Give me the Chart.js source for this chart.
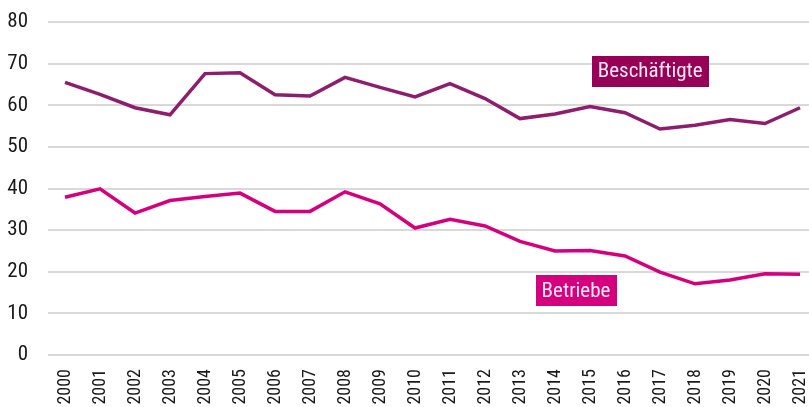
<!DOCTYPE html>
<html>
<head>
<meta charset="utf-8">
<script src="https://cdn.jsdelivr.net/npm/chart.js@4"></script>
<style>
  html,body{margin:0;padding:0;background:#fff;}
  #wrap{width:809px;height:407px;}
</style>
</head>
<body>
<div id="wrap"><canvas id="c"></canvas></div>
<script>
// Beschäftigte / Betriebe 2000-2021
const years = [2000,2001,2002,2003,2004,2005,2006,2007,2008,2009,2010,2011,2012,2013,2014,2015,2016,2017,2018,2019,2020,2021];
const beschaeftigte = [65.5,62.6,59.4,57.7,67.6,67.8,62.5,62.2,66.7,64.3,62.0,65.2,61.6,56.8,57.9,59.7,58.2,54.3,55.2,56.6,55.6,59.4];
const betriebe = [37.9,39.9,34.1,37.1,38.1,38.9,34.5,34.5,39.2,36.3,30.5,32.6,31.0,27.3,25.0,25.1,23.8,19.9,17.1,18.0,19.5,19.4];
const yTicks = [0,10,20,30,40,50,60,70,80];
// labels placed at data positions
const seriesLabels = [
  { text:'Beschäftigte', x:2016.72, y:68.2, bg:'#960056' },
  { text:'Betriebe',     x:2014.6,  y:15.4, bg:'#D5007D' }
];

const FONT = '"Roboto Condensed", "Liberation Sans Narrow", sans-serif';

const labelPlugin = {
  id:'seriesLabels',
  afterDatasetsDraw(chart){
    const {ctx, scales:{x,y}} = chart;
    ctx.save();
    ctx.font = '21px ' + FONT;
    ctx.textAlign = 'center'; ctx.textBaseline = 'middle';
    seriesLabels.forEach(l=>{
      const px = x.getPixelForValue(l.x), py = y.getPixelForValue(l.y);
      const w = ctx.measureText(l.text).width + 12, h = 31;
      ctx.fillStyle = l.bg;
      ctx.fillRect(Math.round(px - w/2), Math.round(py - h/2), Math.round(w), h);
      ctx.fillStyle = '#fbe9f3';
      ctx.fillText(l.text, px, py + 1);
    });
    ctx.restore();
  }
};

new Chart(document.getElementById('c'), {
  type:'line',
  data:{
    datasets:[
      { label:'Beschäftigte', data:years.map((yr,i)=>({x:yr,y:beschaeftigte[i]})), borderColor:'#8E1D6D', borderWidth:3.5, pointRadius:0, tension:0, fill:false },
      { label:'Betriebe', data:years.map((yr,i)=>({x:yr,y:betriebe[i]})), borderColor:'#D6007F', borderWidth:3.5, pointRadius:0, tension:0, fill:false }
    ]
  },
  options:{
    responsive:true, maintainAspectRatio:false, animation:false,
    layout:{ padding:{ left:0, right:0, top:22, bottom:0 } },
    plugins:{ legend:{display:false}, tooltip:{enabled:false} },
    scales:{
      x:{
        type:'linear', min:1999.514, max:2021.257,
        afterBuildTicks: axis => { axis.ticks = years.map(v=>({value:v})); },
        afterFit: axis => { axis.height = 52; axis.paddingLeft = 0; axis.paddingRight = 0; },
        grid:{ display:false, drawTicks:false }, border:{ display:false },
        ticks:{ autoSkip:false, minRotation:90, maxRotation:90, padding:14, color:'#1a1a1a',
          font:{ family:FONT, size:18 }, callback:v=>String(v) }
      },
      y:{
        min:0, max:80,
        afterBuildTicks: axis => { axis.ticks = yTicks.map(v=>({value:v})); },
        afterFit: axis => { axis.width = 48; axis.paddingTop = 0; axis.paddingBottom = 0; },
        grid:{ color:'#d9d9d9', lineWidth:2, drawTicks:false }, border:{ display:false },
        ticks:{ padding:20, color:'#1a1a1a', font:{ family:FONT, size:21 } }
      }
    }
  },
  plugins:[labelPlugin]
});
</script>
</body>
</html>
